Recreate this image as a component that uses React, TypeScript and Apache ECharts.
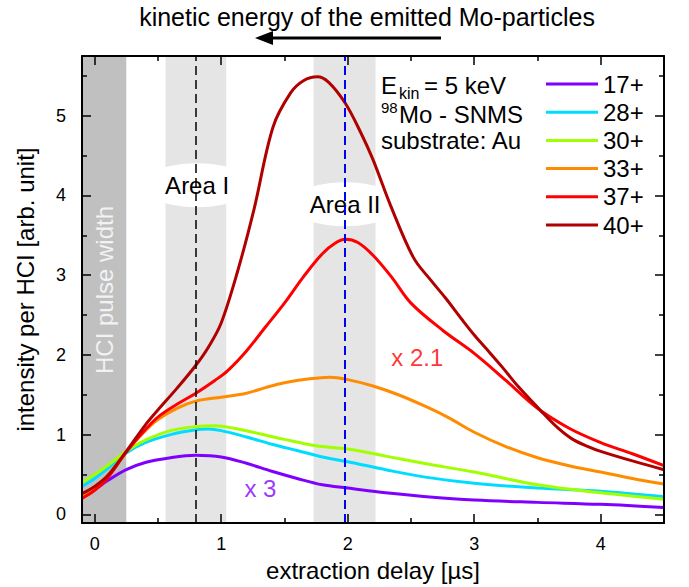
import React, { useEffect, useRef } from "react";
import * as echarts from "echarts";

const FONT = "'Liberation Sans', Arial, sans-serif";

const seriesNames = ["17+", "28+", "30+", "33+", "37+", "40+"];
const seriesColors = ["#7f00ff", "#00dcff", "#a0ff00", "#ff8c00", "#ff0000", "#b00000"];

// [extraction delay (µs), intensity]
const ion17: [number, number][] = [
  [-0.1, 0.22], [0, 0.31], [0.1, 0.42], [0.25, 0.56], [0.4, 0.65], [0.6, 0.71], [0.8, 0.74],
  [1.0, 0.72], [1.2, 0.64], [1.4, 0.54], [1.6, 0.45], [1.8, 0.37], [2.0, 0.33], [2.3, 0.27],
  [2.6, 0.225], [3.0, 0.18], [3.5, 0.15], [4.0, 0.125], [4.5, 0.085],
];
const ion28: [number, number][] = [
  [-0.1, 0.35], [0, 0.45], [0.1, 0.57], [0.25, 0.77], [0.4, 0.9], [0.6, 1.0], [0.8, 1.06],
  [0.9, 1.07], [1.0, 1.05], [1.2, 0.97], [1.4, 0.88], [1.6, 0.8], [1.8, 0.72], [2.0, 0.66],
  [2.3, 0.56], [2.6, 0.47], [3.0, 0.39], [3.5, 0.33], [4.0, 0.29], [4.5, 0.22],
];
const ion30: [number, number][] = [
  [-0.1, 0.4], [0, 0.5], [0.1, 0.61], [0.25, 0.79], [0.4, 0.93], [0.6, 1.05], [0.8, 1.1],
  [0.95, 1.11], [1.1, 1.08], [1.25, 1.03], [1.5, 0.94], [1.75, 0.86], [2.0, 0.82], [2.3, 0.73],
  [2.6, 0.64], [3.0, 0.53], [3.5, 0.37], [4.0, 0.27], [4.5, 0.19],
];
const ion33: [number, number][] = [
  [-0.1, 0.24], [0, 0.34], [0.1, 0.48], [0.25, 0.79], [0.4, 1.05], [0.5, 1.19], [0.65, 1.33],
  [0.8, 1.42], [1.0, 1.47], [1.2, 1.52], [1.35, 1.59], [1.5, 1.65], [1.7, 1.7], [1.86, 1.72],
  [2.0, 1.69], [2.2, 1.61], [2.4, 1.5], [2.62, 1.35], [2.8, 1.21], [3.0, 1.03], [3.25, 0.85],
  [3.5, 0.71], [3.75, 0.61], [4.0, 0.53], [4.25, 0.45], [4.5, 0.38],
];
const ion37: [number, number][] = [
  [-0.1, 0.2], [0, 0.3], [0.1, 0.45], [0.25, 0.78], [0.4, 1.06], [0.5, 1.22], [0.65, 1.38],
  [0.8, 1.52], [0.95, 1.68], [1.05, 1.8], [1.2, 2.05], [1.35, 2.35], [1.5, 2.65], [1.65, 2.98],
  [1.8, 3.27], [1.9, 3.4], [1.98, 3.45], [2.08, 3.41], [2.2, 3.25], [2.35, 2.97], [2.5, 2.65],
  [2.75, 2.31], [3.0, 2.02], [3.25, 1.68], [3.5, 1.33], [3.75, 1.08], [4.0, 0.9], [4.25, 0.76],
  [4.5, 0.61],
];
const ion40: [number, number][] = [
  [-0.1, 0.26], [0, 0.35], [0.1, 0.48], [0.25, 0.79], [0.4, 1.12], [0.5, 1.31], [0.65, 1.58],
  [0.8, 1.87], [0.9, 2.1], [1.0, 2.4], [1.13, 3.05], [1.26, 3.83], [1.41, 4.86], [1.55, 5.29],
  [1.65, 5.44], [1.76, 5.49], [1.85, 5.42], [1.98, 5.16], [2.1, 4.8], [2.2, 4.45], [2.34, 3.87],
  [2.52, 3.22], [2.65, 2.95], [2.77, 2.72], [2.9, 2.45], [3.0, 2.25], [3.1, 2.07], [3.22, 1.85],
  [3.35, 1.6], [3.52, 1.31], [3.65, 1.1], [3.77, 0.95], [3.9, 0.85], [4.0, 0.79], [4.25, 0.67],
  [4.5, 0.56],
];
const seriesData = [ion17, ion28, ion30, ion33, ion37, ion40];

const xRange = [-0.1, 4.5];
const yRange = [-0.11, 5.75];
const xMajorTicks = [0, 1, 2, 3, 4];
const xMinorTicks = [0.5, 1.5, 2.5, 3.5];
const yMajorTicks = [0, 1, 2, 3, 4, 5];
const yMinorTicks = [0.5, 1.5, 2.5, 3.5, 4.5, 5.5];

const pulseBand = [-0.1, 0.25];
const areaBands = [[0.56, 1.04], [1.73, 2.22]];
const areaLines = [0.8, 1.98];
const areaLineColors = ["#000000", "#0000ff"];
const areaLabels = [
  { name: "Area I", value: [0.81, 4.13] },
  { name: "Area II", value: [1.98, 3.89] },
];
const factorLabels = [
  { name: "x 2.1", value: [2.55, 1.97], color: "#ff0000" },
  { name: "x 3", value: [1.31, 0.32], color: "#7f00ff" },
];

function makeX(position: "bottom" | "top", major: boolean, extra: any = {}) {
  return {
    type: "value",
    position,
    min: xRange[0],
    max: xRange[1],
    z: 10,
    splitLine: { show: false },
    axisLine: { show: major, onZero: false, lineStyle: { color: "#000", width: 2 } },
    axisTick: {
      show: true,
      inside: true,
      length: major ? 9 : 5,
      customValues: major ? xMajorTicks : xMinorTicks,
      lineStyle: { color: "#000", width: 1.5 },
    },
    axisLabel: { show: false },
    ...extra,
  };
}
function makeY(position: "left" | "right", major: boolean, extra: any = {}) {
  return {
    type: "value",
    position,
    min: yRange[0],
    max: yRange[1],
    z: 10,
    splitLine: { show: false },
    axisLine: { show: major, onZero: false, lineStyle: { color: "#000", width: 2 } },
    axisTick: {
      show: true,
      inside: true,
      length: major ? 9 : 5,
      customValues: major ? yMajorTicks : yMinorTicks,
      lineStyle: { color: "#000", width: 1.5 },
    },
    axisLabel: { show: false },
    ...extra,
  };
}

export default function App() {
  const ref = useRef<HTMLDivElement>(null);
  useEffect(() => {
    if (!ref.current) return;
    const chart = echarts.init(ref.current, undefined, { renderer: "svg" });
    const lineSeries = seriesNames.map((name, i) => ({
      type: "line",
      name,
      data: seriesData[i],
      smooth: 0.35,
      symbol: "none",
      z: 3,
      color: seriesColors[i],
      lineStyle: { color: seriesColors[i], width: 3 },
      silent: true,
    }));
    const option: any = {
      animation: false,
      backgroundColor: "#fff",
      textStyle: { fontFamily: FONT },
      grid: { left: 82, top: 56, width: 582, height: 470, containLabel: false },
      legend: {
        data: seriesNames,
        orient: "vertical",
        left: 541,
        top: 67,
        itemWidth: 52,
        itemHeight: 3,
        itemGap: 4.2,
        icon: "rect",
        selectedMode: false,
        textStyle: { fontSize: 24, color: "#000", fontFamily: FONT, lineHeight: 24 },
      },
      xAxis: [
        makeX("bottom", true, {
          axisLabel: { show: true, customValues: xMajorTicks, fontSize: 18, color: "#000", margin: 12, fontFamily: FONT },
          name: "extraction delay [µs]",
          nameLocation: "middle",
          nameGap: 32,
          nameTextStyle: { fontSize: 24, color: "#000", fontFamily: FONT },
        }),
        makeX("bottom", false),
        makeX("top", true),
        makeX("top", false),
      ],
      yAxis: [
        makeY("left", true, {
          axisLabel: { show: true, customValues: yMajorTicks, fontSize: 18, color: "#000", margin: 16, fontFamily: FONT },
          name: "intensity per HCI [arb. unit]",
          nameLocation: "middle",
          nameGap: 45,
          nameTextStyle: { fontSize: 24, color: "#000", fontFamily: FONT },
        }),
        makeY("left", false),
        makeY("right", true),
        makeY("right", false),
      ],
      series: [
        {
          type: "line",
          name: "bands",
          data: [],
          z: 1,
          silent: true,
          markArea: {
            silent: true,
            data: [
              [{ xAxis: pulseBand[0], itemStyle: { color: "#c0c0c0" } }, { xAxis: pulseBand[1] }],
              ...areaBands.map((b) => [
                { xAxis: b[0], itemStyle: { color: "#e5e5e5" } },
                { xAxis: b[1] },
              ]),
            ],
          },
          markLine: {
            silent: true,
            symbol: "none",
            label: { show: false },
            data: areaLines.map((x, i) => ({
              xAxis: x,
              lineStyle: { color: areaLineColors[i], type: [9, 5], width: i === 0 ? 1.5 : 2 },
            })),
          },
        },
        {
          type: "scatter",
          name: "areaLabels",
          data: areaLabels,
          symbol: "circle",
          symbolSize: [110, 44],
          itemStyle: { color: "#ffffff", opacity: 1 },
          label: { show: true, position: "inside", formatter: "{b}", color: "#000", fontSize: 24, fontFamily: FONT },
          z: 2,
          silent: true,
        },
        {
          type: "scatter",
          name: "factors",
          data: factorLabels.map((f) => ({
            name: f.name,
            value: f.value,
            label: { color: f.color },
          })),
          symbolSize: 0,
          label: { show: true, position: "inside", formatter: "{b}", fontSize: 24, fontFamily: FONT },
          z: 4,
          silent: true,
        },
        ...lineSeries,
      ],
      graphic: [
        {
          type: "text",
          x: 367,
          y: 17,
          style: { text: "kinetic energy of the emitted Mo-particles", fontSize: 25, fontFamily: FONT, fill: "#000", align: "center", verticalAlign: "middle" },
        },
        { type: "line", shape: { x1: 441, y1: 38, x2: 268, y2: 38 }, style: { stroke: "#000", lineWidth: 3 } },
        { type: "polygon", shape: { points: [[255, 38], [273, 31], [273, 45]] }, style: { fill: "#000" } },
        {
          type: "text",
          x: 104,
          y: 290,
          z: 50,
          rotation: Math.PI / 2,
          style: { text: "HCI pulse width", fontSize: 24, fontFamily: FONT, fill: "#f2f2f2", align: "center", verticalAlign: "middle" },
        },
        { type: "text", x: 381, y: 85, style: { text: "E", fontSize: 24, fontFamily: FONT, fill: "#000", align: "left", verticalAlign: "middle" } },
        { type: "text", x: 399, y: 93, style: { text: "kin", fontSize: 16, fontFamily: FONT, fill: "#000", align: "left", verticalAlign: "middle" } },
        { type: "text", x: 424, y: 85, style: { text: "= 5 keV", fontSize: 24, fontFamily: FONT, fill: "#000", align: "left", verticalAlign: "middle" } },
        { type: "text", x: 381, y: 107, style: { text: "98", fontSize: 15, fontFamily: FONT, fill: "#000", align: "left", verticalAlign: "middle" } },
        { type: "text", x: 399, y: 114, style: { text: "Mo - SNMS", fontSize: 24, fontFamily: FONT, fill: "#000", align: "left", verticalAlign: "middle" } },
        { type: "text", x: 381, y: 140, style: { text: "substrate: Au", fontSize: 24, fontFamily: FONT, fill: "#000", align: "left", verticalAlign: "middle" } },
      ],
    };
    chart.setOption(option);
    return () => chart.dispose();
  }, []);
  return (
    <div
      ref={ref}
      style={{ position: "fixed", left: 0, top: 0, width: 689, height: 587, background: "#fff" }}
    />
  );
}
